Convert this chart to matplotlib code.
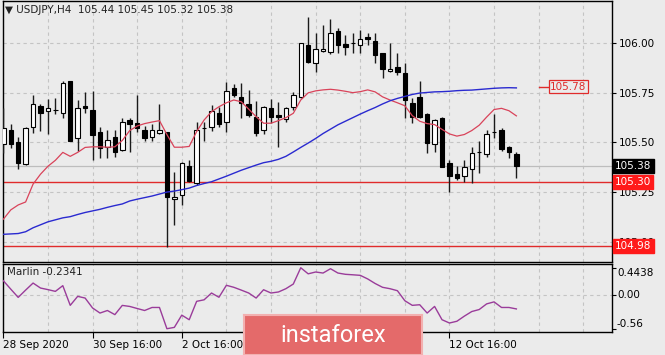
import matplotlib

matplotlib.use("Agg")
import matplotlib.pyplot as plt
import numpy as np

# USDJPY H4 candles
opens = [105.492, 105.563, 105.501, 105.392, 105.580, 105.684, 105.659, 105.665, 105.650, 105.812,
         105.521, 105.684, 105.664, 105.551, 105.479, 105.526, 105.462, 105.613, 105.600, 105.563,
         105.529, 105.550, 105.555, 105.213, 105.235, 105.383, 105.294, 105.573, 105.580, 105.650,
         105.605, 105.773, 105.731, 105.694, 105.630, 105.563, 105.672, 105.640, 105.617, 105.681,
         105.728, 105.992, 105.903, 105.961, 105.958, 106.064, 105.997, 105.999, 105.992, 106.034,
         106.012, 105.950, 105.860, 105.879, 105.852, 105.701, 105.731, 105.642, 105.492, 105.622,
         105.395, 105.341, 105.331, 105.365, 105.450, 105.442, 105.553, 105.563, 105.476, 105.440]
highs = [105.672, 105.593, 105.529, 105.580, 105.739, 105.692, 105.719, 105.723, 105.810, 105.812,
         105.714, 105.756, 105.761, 105.580, 105.563, 105.563, 105.622, 105.622, 105.739, 105.583,
         105.593, 105.694, 105.555, 105.353, 105.403, 105.412, 105.605, 105.605, 105.689, 105.677,
         105.803, 105.795, 105.802, 105.765, 105.711, 105.684, 105.719, 105.706, 105.677, 105.756,
         106.003, 106.130, 106.050, 106.092, 106.120, 106.076, 106.042, 106.054, 106.067, 106.050,
         106.050, 105.953, 106.003, 105.950, 105.899, 105.723, 105.810, 105.650, 105.617, 105.627,
         105.412, 105.382, 105.412, 105.476, 105.509, 105.563, 105.642, 105.571, 105.482, 105.450]
lows = [105.445, 105.471, 105.365, 105.387, 105.550, 105.560, 105.541, 105.644, 105.622, 105.509,
        105.459, 105.650, 105.412, 105.420, 105.420, 105.429, 105.459, 105.454, 105.555, 105.509,
        105.509, 105.543, 104.975, 105.084, 105.185, 105.303, 105.286, 105.509, 105.560, 105.580,
        105.551, 105.731, 105.622, 105.630, 105.533, 105.543, 105.597, 105.479, 105.605, 105.664,
        105.723, 105.903, 105.857, 105.958, 105.946, 105.950, 105.941, 105.950, 105.950, 105.992,
        105.903, 105.824, 105.857, 105.840, 105.622, 105.597, 105.622, 105.445, 105.454, 105.378,
        105.252, 105.311, 105.303, 105.297, 105.348, 105.429, 105.521, 105.459, 105.420, 105.320]
closes = [105.571, 105.492, 105.395, 105.571, 105.692, 105.650, 105.672, 105.663, 105.802, 105.509,
          105.672, 105.672, 105.538, 105.474, 105.513, 105.454, 105.605, 105.593, 105.571, 105.521,
          105.563, 105.563, 105.224, 105.224, 105.395, 105.306, 105.563, 105.571, 105.661, 105.593,
          105.761, 105.739, 105.701, 105.639, 105.550, 105.681, 105.630, 105.630, 105.672, 105.739,
          106.003, 105.908, 105.970, 105.970, 106.054, 105.992, 105.983, 106.000, 106.020, 106.020,
          105.941, 105.869, 105.872, 105.857, 105.714, 105.630, 105.630, 105.499, 105.613, 105.378,
          105.331, 105.319, 105.375, 105.445, 105.453, 105.543, 105.551, 105.466, 105.454, 105.380]

ma_fast = [105.113, 105.160, 105.185, 105.200, 105.290, 105.340, 105.380, 105.410, 105.450, 105.430,
           105.450, 105.475, 105.478, 105.478, 105.476, 105.478, 105.510, 105.560, 105.583, 105.595,
           105.603, 105.610, 105.540, 105.476, 105.476, 105.480, 105.555, 105.613, 105.655, 105.680,
           105.700, 105.714, 105.705, 105.668, 105.630, 105.597, 105.597, 105.610, 105.625, 105.647,
           105.714, 105.750, 105.760, 105.765, 105.768, 105.764, 105.758, 105.751, 105.756, 105.765,
           105.755, 105.730, 105.714, 105.700, 105.685, 105.635, 105.607, 105.595, 105.590, 105.566,
           105.543, 105.532, 105.540, 105.560, 105.587, 105.628, 105.666, 105.672, 105.660, 105.634]
ma_slow = [105.037, 105.039, 105.041, 105.050, 105.070, 105.085, 105.100, 105.110, 105.120, 105.126,
           105.137, 105.147, 105.155, 105.163, 105.173, 105.182, 105.190, 105.205, 105.214, 105.222,
           105.230, 105.240, 105.250, 105.255, 105.262, 105.270, 105.283, 105.293, 105.302, 105.316,
           105.330, 105.345, 105.360, 105.373, 105.386, 105.398, 105.405, 105.415, 105.430, 105.452,
           105.475, 105.497, 105.520, 105.545, 105.567, 105.589, 105.607, 105.625, 105.643, 105.660,
           105.676, 105.694, 105.710, 105.722, 105.732, 105.742, 105.749, 105.752, 105.755, 105.756,
           105.758, 105.761, 105.763, 105.764, 105.767, 105.770, 105.773, 105.775, 105.776, 105.775]
marlin = [0.231, 0.092, -0.044, 0.076, 0.192, 0.110, 0.084, 0.055, 0.149, -0.175,
          -0.027, -0.055, -0.218, -0.302, -0.260, -0.328, -0.176, -0.193, -0.227, -0.260,
          -0.210, -0.210, -0.560, -0.538, -0.336, -0.412, -0.109, -0.084, 0.028, -0.042,
          0.155, 0.122, 0.076, 0.028, -0.055, 0.082, 0.028, 0.045, 0.099, 0.176,
          0.4438, 0.344, 0.374, 0.357, 0.428, 0.357, 0.336, 0.328, 0.319, 0.260,
          0.185, 0.122, 0.099, 0.066, -0.099, -0.175, -0.165, -0.302, -0.193, -0.412,
          -0.466, -0.437, -0.353, -0.277, -0.244, -0.151, -0.118, -0.210, -0.210, -0.2341]

# labels at bars 36 and 48 sit under the watermark in the original, so left blank
date_ticks = [0, 12, 24, 36, 48, 60]
date_labels = ["28 Sep 2020", "30 Sep 16:00", "2 Oct 16:00", "", "", "12 Oct 16:00"]
price_ticks = [105.00, 105.25, 105.50, 105.75, 106.00]
support_levels = [105.30, 104.98]
last_price = 105.38
ma_label_price = 105.78
marlin_ticks = [0.4438, 0.00, -0.56]
marlin_tick_labels = ["0.4438", "0.00", "-0.56"]

BG = "#ebebeb"
GRID = "#c4c4c4"
RED = "#e02b2b"
plt.rcParams["font.family"] = ["DejaVu Sans"]
plt.rcParams["font.size"] = 7.5

W, H = 665, 355
fig = plt.figure(figsize=(W / 100, H / 100), dpi=100, facecolor=BG)
ax = fig.add_axes([2.5 / W, 1 - 261.5 / H, 609.8 / W, 260.5 / H], facecolor=BG)
sub = fig.add_axes([2.5 / W, 1 - 332 / H, 609.8 / W, 68.5 / H], facecolor=BG)

n = len(opens)
idx = np.arange(n)
o, h, l, c = (np.asarray(a) for a in (opens, highs, lows, closes))
up = c >= o

for a in (ax, sub):
    a.set_xlim(-0.11, 81.9)
    for x in range(0, 82, 6):
        a.axvline(x, color=GRID, lw=0.8, ls=(0, (3, 3)), zorder=0)
    for s in a.spines.values():
        s.set_color("black")
        s.set_linewidth(1.0)

# main price panel
ax.set_ylim(104.90, 106.213)
for p in price_ticks:
    ax.axhline(p, color=GRID, lw=0.8, ls=(0, (3, 3)), zorder=0)
ax.axhline(last_price, color="#bdbdbd", lw=0.9, zorder=1)
for lvl in support_levels:
    ax.axhline(lvl, color=RED, lw=1.0, zorder=2)

ax.vlines(idx, l, h, color="#1a1a1a", lw=1.0, zorder=3)
body = np.maximum(np.abs(c - o), 0.002)
ax.bar(idx, body, bottom=np.minimum(o, c), width=0.6,
       color=np.where(up, "white", "black"), edgecolor="black", lw=0.8, zorder=4)

ax.plot(idx, ma_fast, color="#d9435a", lw=0.9, zorder=5)
ax.plot(idx, ma_slow, color="#2a2ad0", lw=1.0, zorder=5)

ax.yaxis.tick_right()
ax.set_yticks(price_ticks)
ax.set_yticklabels([f"{p:.2f}" for p in price_ticks])
ax.tick_params(axis="y", length=3, width=0.8, pad=2, colors="black")
ax.set_xticks([])

ax.plot([72.1, 73.3], [ma_label_price] * 2, color=RED, lw=1.0, clip_on=False, zorder=6)
ax.text(73.55, ma_label_price, f"{ma_label_price:.2f}", color=RED, va="center", ha="left", zorder=6,
        bbox=dict(boxstyle="square,pad=0.15", fc=BG, ec=RED, lw=0.9))

yt = ax.get_yaxis_transform()
ax.text(1.0045, last_price, f"{last_price:.2f}", transform=yt, color="white", va="center", ha="left",
        zorder=10, clip_on=False, bbox=dict(boxstyle="square,pad=0.2", fc="black", ec="black"))
for lvl in support_levels:
    ax.text(1.0045, lvl, f"{lvl:.2f}", transform=yt, color="white", va="center", ha="left",
            zorder=10, clip_on=False, bbox=dict(boxstyle="square,pad=0.2", fc="#ff1a1a", ec="#ff1a1a"))

ax.text(0.004, 0.985, "\u25bc USDJPY,H4  105.44 105.45 105.32 105.38", transform=ax.transAxes,
        va="top", ha="left", color="#222222")

# Marlin sub panel
sub.set_ylim(-0.614, 0.514)
sub.axhline(0, color=GRID, lw=0.8, ls=(0, (3, 3)), zorder=0)
sub.plot(idx, marlin, color="#9a3c9a", lw=1.0, zorder=3)
sub.set_yticks(marlin_ticks)
sub.set_yticklabels([])
sub.yaxis.tick_right()
sub.tick_params(axis="y", length=3, width=0.8)
syt = sub.get_yaxis_transform()
for v, lab, va in zip(marlin_ticks, marlin_tick_labels, ["top", "center", "bottom"]):
    sub.text(1.0077, v, lab, transform=syt, va=va, ha="left", clip_on=False)
sub.text(0.007, 0.87, f"Marlin {marlin[-1]:.4f}", transform=sub.transAxes, va="center", ha="left",
         color="#222222")
sub.set_xticks(date_ticks)
sub.set_xticklabels(date_labels)
sub.tick_params(axis="x", length=4, width=0.8, pad=2)
for t in sub.get_xticklabels():
    t.set_ha("left")

# watermark
wm = fig.add_axes([244 / W, 0, 178 / W, 40 / H], facecolor="#e46a6a")
wm.set_xticks([])
wm.set_yticks([])
for s in wm.spines.values():
    s.set_color("#f2b0b0")
    s.set_linewidth(1.5)
wm.text(0.5, 0.5, "instaforex", color="white", fontsize=17, family="Roboto",
        ha="center", va="center", transform=wm.transAxes)

fig.savefig("out.png", dpi=100, facecolor=BG)
